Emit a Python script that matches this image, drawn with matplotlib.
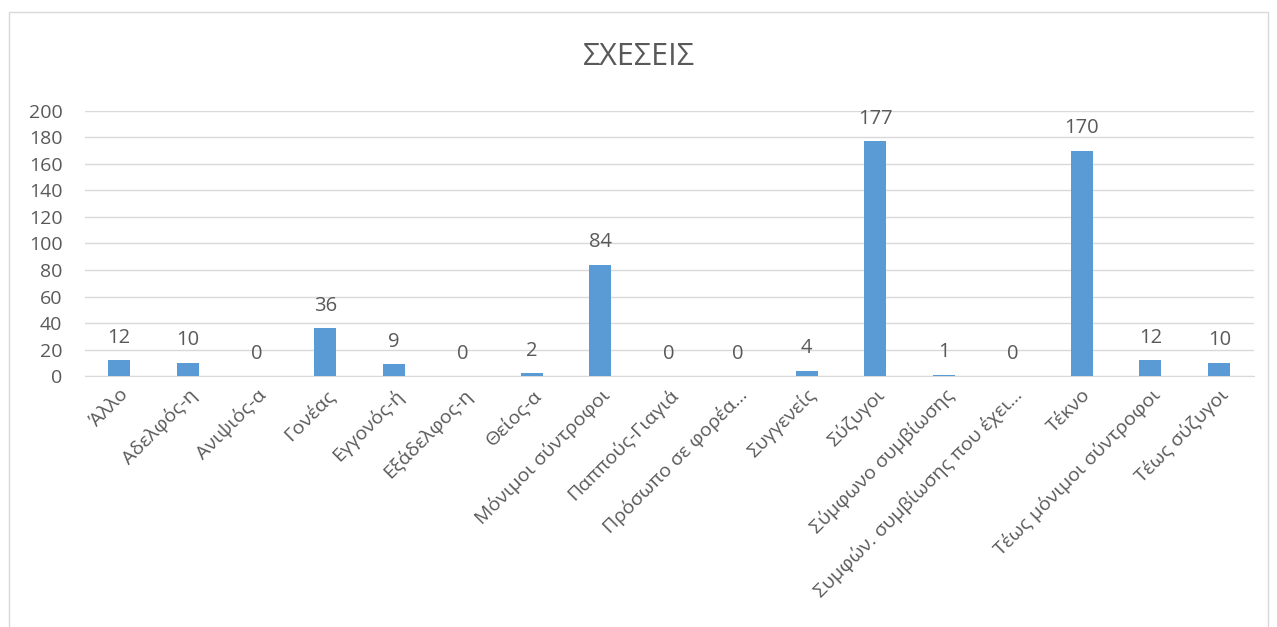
import numpy as np
import matplotlib.pyplot as plt
from matplotlib.patches import Rectangle

categories = ['Άλλο', 'Αδελφός-η', 'Ανιψιός-α', 'Γονέας', 'Εγγονός-ή', 'Εξάδελφος-η',
              'Θείος-α', 'Μόνιμοι σύντροφοι', 'Παππούς-Γιαγιά', 'Πρόσωπο σε φορέα...',
              'Συγγενείς', 'Σύζυγοι', 'Σύμφωνο συμβίωσης', 'Συμφών. συμβίωσης που έχει...',
              'Τέκνο', 'Τέως μόνιμοι σύντροφοι', 'Τέως σύζυγοι']
values = [12, 10, 0, 36, 9, 0, 2, 84, 0, 0, 4, 177, 1, 0, 170, 12, 10]
yticks = [0, 20, 40, 60, 80, 100, 120, 140, 160, 180, 200]

text_color = '#595959'
bar_color = '#5b9bd5'
plt.rcParams['font.family'] = ['Open Sans', 'DejaVu Sans']

fig = plt.figure(figsize=(12.77, 6.27), dpi=100)
fig.patches.append(Rectangle((9 / 1277, -0.01), 1259 / 1277, 1 - 12 / 627 + 0.01,
                             transform=fig.transFigure, fill=False,
                             edgecolor='#d9d9d9', linewidth=1))
ax = fig.add_axes([0.0663, 0.4003, 0.9154, 0.4227])

x = np.arange(len(categories))
ax.bar(x, values, width=0.32, color=bar_color, zorder=3)
for xi, v in zip(x, values):
    ax.annotate(str(v), (xi, v), xytext=(0, 9), textcoords='offset points',
                ha='center', va='bottom', fontsize=14.5, color=text_color)

ax.set_xlim(-0.5, len(categories) - 0.5)
ax.set_ylim(0, 200)
ax.set_yticks(yticks)
ax.yaxis.grid(True, color='#d9d9d9', linewidth=1, zorder=0)
ax.set_xticks(x)
ax.set_xticklabels(categories, rotation=45, ha='right', rotation_mode='anchor',
                   fontsize=14, color=text_color)
ax.tick_params(axis='y', labelsize=14, labelcolor=text_color, length=0, pad=16)
ax.tick_params(axis='x', length=0, pad=7)
for side in ['top', 'right', 'left']:
    ax.spines[side].set_visible(False)
ax.spines['bottom'].set_color('#d9d9d9')

fig.text(0.5, 1 - 57 / 627, 'ΣΧΕΣΕΙΣ', ha='center', va='center', fontsize=22, color=text_color)

fig.savefig('out.png', dpi=100)
